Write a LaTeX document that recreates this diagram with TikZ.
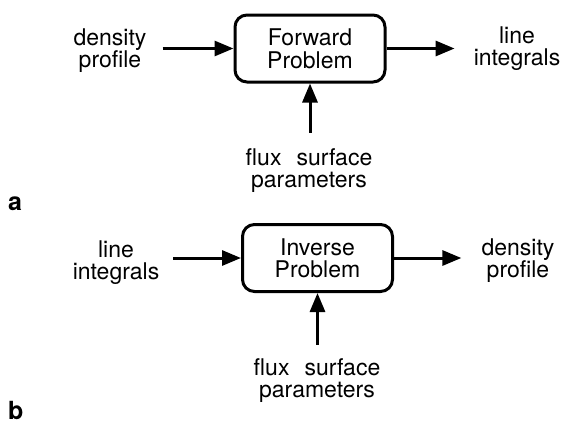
\documentclass[tikz,border=0pt]{standalone}
\usepackage{fontspec}
\setmainfont{TeX Gyre Heros}
\usetikzlibrary{arrows.meta}
% two centred lines with fixed top and bottom struts
\newcommand\twoln[2]{\rule{0pt}{17pt}#1\\#2\rule[-6pt]{0pt}{6pt}}
\newcommand\boxln[2]{\rule{0pt}{17pt}#1\\#2}
\begin{document}
\begin{tikzpicture}[x=1pt,y=-1pt,
  every node/.style={font=\fontsize{23}{22.5}\selectfont},
  procbox/.style={draw,line width=3pt,rounded corners=12pt,minimum width=150pt,minimum height=67pt,align=center,inner sep=0pt},
  lbl/.style={align=center,inner sep=0pt},
  arr/.style={line width=3pt,-{Triangle[length=19pt,width=15pt]}},
  panel/.style={font=\fontsize{25}{25}\selectfont\bfseries,inner sep=0pt,anchor=base west}]
\useasboundingbox (0,0) rectangle (562,423);
% (a) forward problem
\node[procbox] (fwd) at (310,48.5) {\boxln{Forward}{Problem}};
\node[lbl] (dpA) at (110,50.75) {\twoln{density}{profile}};
\node[lbl] (liA) at (517,48.75) {\twoln{line}{integrals}};
\node[lbl] (fsA) at (309,170.75) {\twoln{flux\hspace{15pt}surface}{parameters}};
\node[panel] (a) at (8,210) {a};
\draw[arr] ([xshift=16pt]dpA.east |- fwd.west) -- (fwd.west);
\draw[arr] (fwd.east) -- ([xshift=-19pt]liA.west |- fwd.east);
\draw[arr] ([yshift=15pt]fsA.north -| fwd.south) -- (fwd.south);
% (b) inverse problem
\node[procbox] (inv) at (317.5,258) {\boxln{Inverse}{Problem}};
\node[lbl] (liB) at (116,262.75) {\twoln{line}{integrals}};
\node[lbl] (dpB) at (518,260.75) {\twoln{density}{profile}};
\node[lbl] (fsB) at (317,380.75) {\twoln{flux\hspace{15pt}surface}{parameters}};
\node[panel] (b) at (8,419) {b};
\draw[arr] ([xshift=14pt]liB.east |- inv.west) -- (inv.west);
\draw[arr] (inv.east) -- ([xshift=-20pt]dpB.west |- inv.east);
\draw[arr] ([yshift=13pt]fsB.north -| inv.south) -- (inv.south);
\end{tikzpicture}
\end{document}
